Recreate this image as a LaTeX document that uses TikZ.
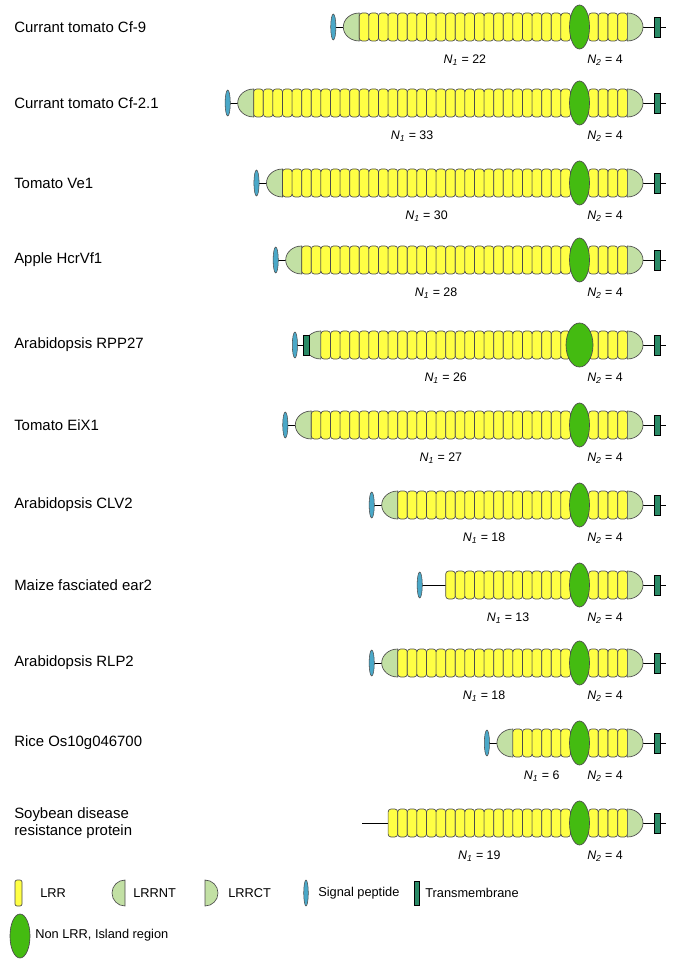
\documentclass[tikz,border=0pt]{standalone}
\usepackage{fontspec}
\setmainfont{Liberation Sans}
\definecolor{lrr}{HTML}{FFFF44}
\definecolor{nt}{HTML}{C2E0A4}
\definecolor{isl}{HTML}{44BB11}
\definecolor{sp}{HTML}{4AA8C8}
\definecolor{tm}{HTML}{2A8A66}
\tikzset{
 lrrbox/.style={draw=black!70,fill=lrr,line width=0.5pt,rounded corners=2.2pt},
 ntcap/.style={draw=black!70,fill=nt,line width=0.5pt},
 island/.style={draw=black!70,fill=isl,line width=0.5pt},
 sigp/.style={draw=black!70,fill=sp,line width=0.4pt},
 tmbox/.style={draw=black,fill=tm,line width=0.4pt},
 pname/.style={anchor=west,font=\fontsize{11.2}{13}\selectfont,align=left,inner sep=0pt},
 nlab/.style={font=\fontsize{9.3}{11}\selectfont,inner sep=0pt},
 leg/.style={anchor=west,font=\fontsize{9.6}{11}\selectfont,inner sep=0pt},
}
\newcommand{\NN}[2]{{\itshape N}\textsubscript{\itshape #1} = #2}
% #1 y, #2 N1, #3 has NT (1/0), #4 left end: 0 line only,1 SP,2 SP+TM, #5 island rx
\newcommand{\protein}[5]{%
 \pgfmathsetmacro{\pS}{570.5-9.6*#2}%
 \pgfmathsetmacro{\pN}{\pS-16*#3}%
 \pgfmathsetmacro{\pL}{\pN-10-16*(1-#3)}%
 \draw[line width=0.6pt] (\pL,#1) -- (\pN,#1);
 \draw[line width=0.6pt] (643,#1) -- (666,#1);
 \ifnum#3=1 \draw[ntcap] (\pS,#1-14) arc[start angle=270,end angle=90,x radius=16,y radius=14] -- cycle;\fi
 \foreach \i in {1,...,#2}{\draw[lrrbox] ({\pS+9.6*(\i-1)},#1-14) rectangle ++(9.6,28);}
 \foreach \i in {1,...,4}{\draw[lrrbox] ({588.6+9.7*(\i-1)},#1-14) rectangle ++(9.7,28);}
 \draw[ntcap] (627.4,#1+14) arc[start angle=90,end angle=-90,x radius=15.6,y radius=14] -- cycle;
 \draw[island] (579.5,#1) ellipse[x radius=#5,y radius=22];
 \draw[tmbox] (654,#1-10) rectangle (660,#1+10);
 \ifnum#4>0 \draw[sigp] (\pL,#1) ellipse[x radius=2.6,y radius=13];\fi
 \ifnum#4=2 \draw[tmbox] (\pL+8,#1-10) rectangle (\pL+14,#1+10);\fi
 \node[nlab] at ({(\pS+570.5)/2},#1+33) {\NN{1}{#2}};
 \node[nlab] at (605,#1+33) {\NN{2}{4}};
}
\begin{document}
\begin{tikzpicture}[x=0.75pt,y=-0.75pt]
\useasboundingbox (0,0) rectangle (688,969);
\protein{27}{22}{1}{1}{10}
\protein{103}{33}{1}{1}{10}
\protein{183}{30}{1}{1}{10}
\protein{260}{28}{1}{1}{10}
\protein{345}{26}{1}{2}{13.5}
\protein{425}{27}{1}{1}{10}
\protein{505}{18}{1}{1}{10}
\protein{585}{13}{0}{1}{10}
\protein{663}{18}{1}{1}{10}
\protein{743}{6}{1}{1}{10}
\protein{823}{19}{0}{0}{10}
\node[pname] (n1) at (14,27) {Currant tomato Cf-9};
\node[pname] (n2) at (14,103) {Currant tomato Cf-2.1};
\node[pname] (n3) at (14,183) {Tomato Ve1};
\node[pname] (n4) at (14,260) {Apple HcrVf1};
\node[pname] (n5) at (14,345) {Arabidopsis RPP27};
\node[pname] (n6) at (14,425) {Tomato EiX1};
\node[pname] (n7) at (14,505) {Arabidopsis CLV2};
\node[pname] (n8) at (14,585) {Maize fasciated ear2};
\node[pname] (n9) at (14,663) {Arabidopsis RLP2};
\node[pname] (n10) at (14,743) {Rice Os10g046700};
\node[pname] (n11) at (14,823) {Soybean disease\\resistance protein};
% legend
\draw[lrrbox,rounded corners=1.5pt] (15,880) rectangle (22,906);
\node[leg] (l1) at (40,893) {LRR};
\draw[ntcap] (125,880) arc[start angle=270,end angle=90,x radius=13,y radius=13] -- cycle;
\node[leg] (l2) at (133,893) {LRRNT};
\draw[ntcap] (205,906) arc[start angle=90,end angle=-90,x radius=13,y radius=13] -- cycle;
\node[leg] (l3) at (228,893) {LRRCT};
\draw[sigp] (306,893) ellipse[x radius=2.3,y radius=13];
\node[leg] (l4) at (318,893) {Signal peptide};
\draw[tmbox] (414,881) rectangle (419,905);
\node[leg] (l5) at (425,893) {Transmembrane};
\draw[island] (20,936) ellipse[x radius=10,y radius=22];
\node[leg] (l6) at (35,935) {Non LRR, Island region};
\end{tikzpicture}
\end{document}
